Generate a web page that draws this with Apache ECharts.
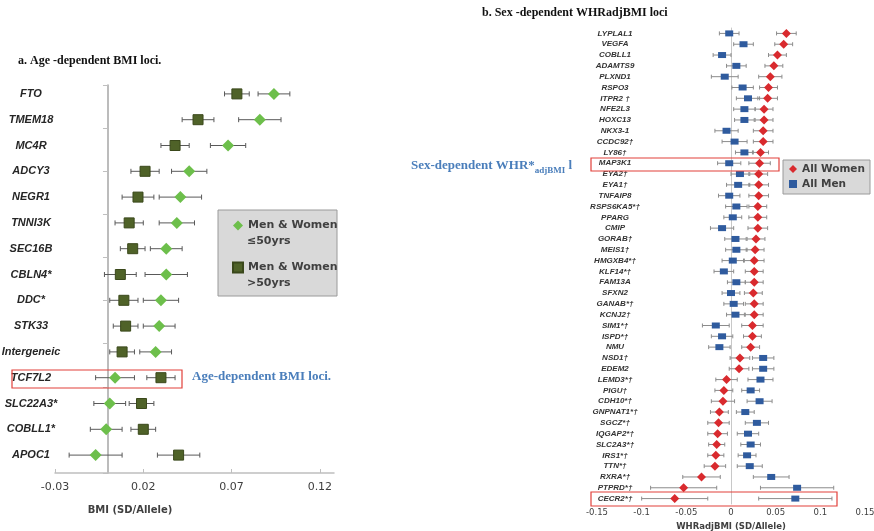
<!DOCTYPE html>
<html><head><meta charset="utf-8">
<script src="https://cdn.jsdelivr.net/npm/echarts@6/dist/echarts.min.js"></script>
<style>html,body{margin:0;padding:0;background:#fff}#c{width:874px;height:531px}</style>
</head><body><div id="c"></div>
<script>
// ---------- Panel a: age-dependent BMI loci ----------
const genesA = ['FTO','TMEM18','MC4R','ADCY3','NEGR1','TNNI3K','SEC16B','CBLN4*','DDC*','STK33','Intergeneic','TCF7L2','SLC22A3*','COBLL1*','APOC1'];
const youngEst = [0.094,0.086,0.068,0.046,0.041,0.039,0.033,0.033,0.030,0.029,0.027,0.004,0.001,-0.001,-0.007];
const youngCI  = [0.009,0.012,0.010,0.010,0.012,0.010,0.009,0.012,0.010,0.009,0.009,0.011,0.009,0.009,0.015];
const oldEst   = [0.073,0.051,0.038,0.021,0.017,0.012,0.014,0.007,0.009,0.010,0.008,0.030,0.019,0.020,0.040];
const oldCI    = [0.007,0.009,0.008,0.008,0.009,0.008,0.007,0.009,0.008,0.007,0.007,0.008,0.007,0.007,0.012];
const ticksA = [-0.03, 0.02, 0.07, 0.12];
const legendA = ['Men & Women ≤50yrs', 'Men & Women >50yrs'];

// ---------- Panel b: sex-dependent WHRadjBMI loci ----------
const genesB = ['LYPLAL1','VEGFA','COBLL1','ADAMTS9','PLXND1','RSPO3','ITPR2 †','NFE2L3','HOXC13','NKX3-1','CCDC92†','LY86†','MAP3K1','EYA2†','EYA1†','TNFAIP8','RSPS6KA5*†','PPARG','CMIP','GORAB†','MEIS1†','HMGXB4*†','KLF14*†','FAM13A','SFXN2','GANAB*†','KCNJ2†','SIM1*†','ISPD*†','NMU','NSD1†','EDEM2','LEMD3*†','PIGU†','CDH10*†','GNPNAT1*†','SGCZ*†','IQGAP2*†','SLC2A3*†','IRS1*†','TTN*†','RXRA*†','PTPRD*†','CECR2*†'];
const womenEst = [0.062,0.059,0.052,0.048,0.044,0.042,0.041,0.037,0.037,0.036,0.036,0.033,0.032,0.031,0.031,0.031,0.030,0.030,0.030,0.028,0.027,0.026,0.026,0.026,0.025,0.026,0.026,0.024,0.024,0.022,0.010,0.009,-0.005,-0.008,-0.009,-0.013,-0.014,-0.015,-0.016,-0.017,-0.018,-0.033,-0.053,-0.063];
const womenCI  = [0.011,0.010,0.010,0.010,0.013,0.010,0.011,0.010,0.010,0.011,0.011,0.009,0.012,0.010,0.011,0.011,0.010,0.010,0.011,0.010,0.010,0.011,0.010,0.010,0.010,0.010,0.010,0.012,0.010,0.010,0.011,0.011,0.012,0.010,0.013,0.010,0.012,0.011,0.009,0.009,0.012,0.021,0.037,0.037];
const menEst   = [-0.002,0.014,-0.010,0.006,-0.007,0.013,0.019,0.015,0.015,-0.005,0.004,0.015,-0.002,0.010,0.008,-0.002,0.006,0.002,-0.010,0.005,0.006,0.002,-0.008,0.006,0.000,0.003,0.005,-0.017,-0.010,-0.013,0.036,0.036,0.033,0.022,0.032,0.016,0.029,0.019,0.022,0.018,0.021,0.045,0.074,0.072];
const menCI    = [0.011,0.011,0.010,0.011,0.015,0.012,0.013,0.012,0.011,0.013,0.014,0.010,0.013,0.010,0.013,0.012,0.012,0.010,0.013,0.012,0.012,0.012,0.011,0.010,0.010,0.011,0.010,0.015,0.012,0.012,0.012,0.012,0.014,0.010,0.014,0.010,0.013,0.012,0.011,0.010,0.014,0.020,0.041,0.041];
const legendB = ['All Women', 'All Men'];

const chart = echarts.init(document.getElementById('c'), null, {renderer: 'canvas'});

function errData(est, ci) { return est.map((v, i) => [i, v - ci[i], v + ci[i]]); }
function ptData(est) { return est.map((v, i) => [v, i]); }
function errRender(color, cap) {
  return function (params, api) {
    const c = api.value(0), lo = api.value(1), hi = api.value(2);
    const p1 = api.coord([lo, c]), p2 = api.coord([hi, c]);
    const st = {stroke: color, lineWidth: 1};
    return {type: 'group', children: [
      {type: 'line', shape: {x1: p1[0], y1: p1[1], x2: p2[0], y2: p2[1]}, style: st},
      {type: 'line', shape: {x1: p1[0], y1: p1[1] - cap, x2: p1[0], y2: p1[1] + cap}, style: st},
      {type: 'line', shape: {x1: p2[0], y1: p2[1] - cap, x2: p2[0], y2: p2[1] + cap}, style: st}
    ]};
  };
}

const serif = '"Liberation Serif", "Times New Roman", serif';
const sans = '"DejaVu Sans", Verdana, sans-serif';
const legText = {fontFamily: sans, fontWeight: 'bold', fontSize: 11, fill: '#404040', align: 'left', verticalAlign: 'middle'};

const option = {
  animation: false,
  backgroundColor: '#ffffff',
  grid: [
    {left: 55, width: 279, top: 81, height: 387, outerBoundsMode: 'none', containLabel: false},
    {left: 55, width: 279, top: 85, height: 388, outerBoundsMode: 'none', containLabel: false},
    {left: 597, width: 268, top: 28, height: 476, outerBoundsMode: 'none', containLabel: false}
  ],
  xAxis: [
    {gridIndex: 0, type: 'value', min: -0.03, max: 0.128, show: false},
    {gridIndex: 1, type: 'value', min: -0.03, max: 0.128, splitLine: {show: false},
      axisLine: {show: true, lineStyle: {color: '#bfbfbf', width: 1.5}},
      axisTick: {show: true, inside: true, length: 4, customValues: ticksA, lineStyle: {color: '#bfbfbf'}},
      axisLabel: {customValues: ticksA, margin: 9, fontSize: 11, fontFamily: sans, color: '#404040'}},
    {gridIndex: 2, type: 'value', min: -0.15, max: 0.15, interval: 0.05, splitLine: {show: false},
      axisLine: {show: false}, axisTick: {show: false},
      axisLabel: {margin: 4, fontSize: 8.5, fontFamily: sans, color: '#404040'},
      name: 'WHRadjBMI (SD/Allele)', nameLocation: 'middle', nameGap: 15,
      nameTextStyle: {fontSize: 8.5, fontWeight: 'bold', fontFamily: sans, color: '#404040'}}
  ],
  yAxis: [
    {gridIndex: 0, type: 'category', inverse: true, data: genesA, position: 'left',
      axisLine: {show: false, onZero: false}, axisTick: {show: false},
      axisLabel: {align: 'center', margin: 24, fontSize: 11, fontStyle: 'italic', fontWeight: 'bold',
        fontFamily: '"Liberation Sans Narrow", "Liberation Sans", Arial, sans-serif', color: '#262626'}},
    {gridIndex: 1, type: 'value', min: 0, max: 9, interval: 1, position: 'left',
      axisLine: {show: true, onZero: true, lineStyle: {color: '#a6a6a6', width: 1.5}},
      axisTick: {show: true, length: 5, lineStyle: {color: '#bfbfbf'}},
      axisLabel: {show: false}, splitLine: {show: false}},
    {gridIndex: 2, type: 'category', inverse: true, data: genesB, position: 'left', offset: -18,
      axisLine: {show: false, onZero: false}, axisTick: {show: false},
      axisLabel: {align: 'center', margin: 0, fontSize: 8, fontStyle: 'italic', fontWeight: 'bold',
        fontFamily: '"Liberation Sans", Arial, sans-serif', color: '#333333'}},
    {gridIndex: 2, type: 'value', min: 0, max: 1, position: 'left',
      axisLine: {show: true, onZero: true, lineStyle: {color: '#c8c8c8', width: 1}},
      axisTick: {show: false}, axisLabel: {show: false}, splitLine: {show: false}}
  ],
  legend: [
    {data: legendA, orient: 'vertical', left: 232, top: 218,
      padding: 0, itemWidth: 10, itemHeight: 10, itemGap: 27,
      formatter: n => n.split(/ (?=[≤>])/)[0],
      textStyle: {fontFamily: sans, fontWeight: 'bold', fontSize: 11, color: '#404040', lineHeight: 15}},
    {data: legendB, orient: 'vertical', left: 789, top: 162,
      padding: 0, itemWidth: 8, itemHeight: 8, itemGap: 1,
      textStyle: {fontFamily: sans, fontWeight: 'bold', fontSize: 10.5, color: '#404040', lineHeight: 14}}
  ],
  series: [
    {type: 'custom', name: 'errYoung', xAxisIndex: 0, yAxisIndex: 0, z: 2, silent: true,
      renderItem: errRender('#595959', 2.5), encode: {x: [1, 2], y: 0}, data: errData(youngEst, youngCI)},
    {type: 'custom', name: 'errOld', xAxisIndex: 0, yAxisIndex: 0, z: 2, silent: true,
      renderItem: errRender('#595959', 2.5), encode: {x: [1, 2], y: 0}, data: errData(oldEst, oldCI)},
    {type: 'scatter', name: legendA[0], xAxisIndex: 0, yAxisIndex: 0, z: 4,
      symbol: 'diamond', symbolSize: 12, itemStyle: {color: '#6dbf4b', opacity: 1}, data: ptData(youngEst)},
    {type: 'scatter', name: legendA[1], xAxisIndex: 0, yAxisIndex: 0, z: 3,
      symbol: 'rect', symbolSize: 10, itemStyle: {color: '#4f6228', borderColor: '#3a481b', borderWidth: 1, opacity: 1}, data: ptData(oldEst)},
    {type: 'custom', name: 'errWomen', xAxisIndex: 2, yAxisIndex: 2, z: 2, silent: true,
      renderItem: errRender('#8c8c8c', 2), encode: {x: [1, 2], y: 0}, data: errData(womenEst, womenCI)},
    {type: 'custom', name: 'errMen', xAxisIndex: 2, yAxisIndex: 2, z: 2, silent: true,
      renderItem: errRender('#8c8c8c', 2), encode: {x: [1, 2], y: 0}, data: errData(menEst, menCI)},
    {type: 'scatter', name: legendB[0], xAxisIndex: 2, yAxisIndex: 2, z: 4,
      symbol: 'diamond', symbolSize: 9, itemStyle: {color: '#d92a2e', opacity: 1}, data: ptData(womenEst)},
    {type: 'scatter', name: legendB[1], xAxisIndex: 2, yAxisIndex: 2, z: 3,
      symbol: 'rect', symbolSize: [8, 6], itemStyle: {color: '#2f5b9e', opacity: 1}, data: ptData(menEst)}
  ],
  graphic: [
    {type: 'rect', z: 0, shape: {x: 218, y: 210, width: 119, height: 86}, style: {fill: '#d9d9d9', stroke: '#9a9a9a', lineWidth: 1}},
    {type: 'rect', z: 0, shape: {x: 783, y: 160, width: 87, height: 34}, style: {fill: '#d9d9d9', stroke: '#9a9a9a', lineWidth: 1}},
    {type: 'text', z: 10, x: 247, y: 241.5, style: Object.assign({text: legendA[0].split(' ').pop()}, legText)},
    {type: 'text', z: 10, x: 247, y: 283.5, style: Object.assign({text: legendA[1].split(' ').pop()}, legText)},
    {type: 'rect', z: 10, shape: {x: 12, y: 370, width: 170, height: 18}, style: {fill: 'none', stroke: '#e2403a', lineWidth: 1.2}},
    {type: 'rect', z: 10, shape: {x: 591, y: 158, width: 188, height: 13}, style: {fill: 'none', stroke: '#e2403a', lineWidth: 1.2}},
    {type: 'rect', z: 10, shape: {x: 591, y: 492, width: 246, height: 14}, style: {fill: 'none', stroke: '#e2403a', lineWidth: 1.2}},
    {type: 'text', z: 10, x: 18, y: 61, style: {text: 'a. Age -dependent BMI loci.', fontFamily: serif, fontWeight: 'bold', fontSize: 12, fill: '#111', align: 'left', verticalAlign: 'middle'}},
    {type: 'text', z: 10, x: 482, y: 13, style: {text: 'b. Sex -dependent WHRadjBMI loci', fontFamily: serif, fontWeight: 'bold', fontSize: 12, fill: '#111', align: 'left', verticalAlign: 'middle'}},
    {type: 'text', z: 10, x: 192, y: 377, style: {text: 'Age-dependent BMI loci.', fontFamily: serif, fontWeight: 'bold', fontSize: 13, fill: '#4a7ebb', align: 'left', verticalAlign: 'middle'}},
    {type: 'text', z: 10, x: 130, y: 510, style: {text: 'BMI (SD/Allele)', fontFamily: sans, fontWeight: 'bold', fontSize: 10, fill: '#404040', align: 'center', verticalAlign: 'middle'}},
    {type: 'text', z: 10, x: 411, y: 166, style: {
      text: '{a|Sex-dependent WHR*}{b|adjBMI}{a| l}', align: 'left', verticalAlign: 'middle',
      rich: {
        a: {fontFamily: serif, fontWeight: 'bold', fontSize: 13, fill: '#4a7ebb', lineHeight: 16},
        b: {fontFamily: serif, fontWeight: 'bold', fontSize: 9, fill: '#4a7ebb', lineHeight: 9, padding: [9, 0, 0, 0]}
      }}}
  ]
};
chart.setOption(option);
</script></body></html>
